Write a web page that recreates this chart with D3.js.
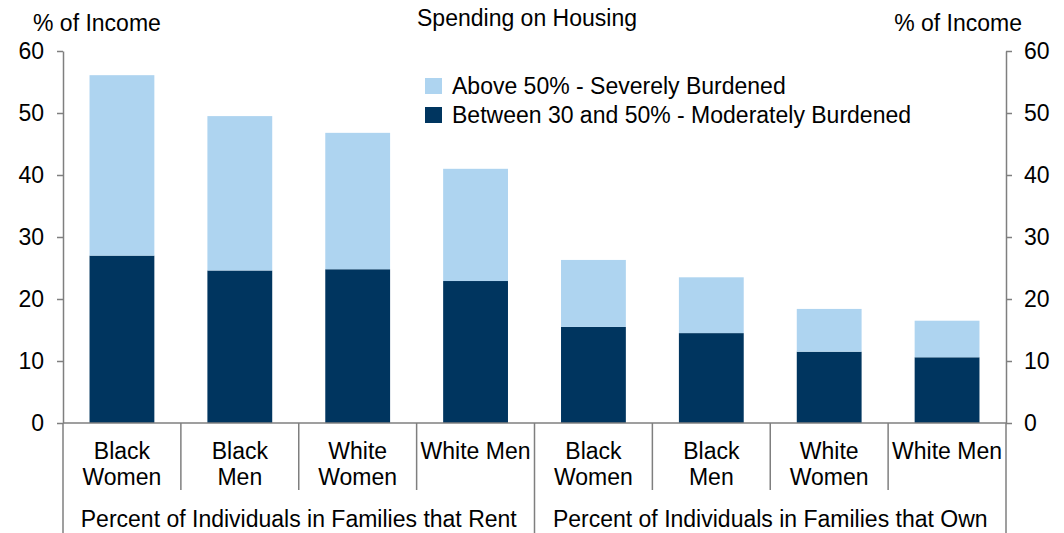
<!DOCTYPE html>
<html><head><meta charset="utf-8">
<script src="https://cdn.jsdelivr.net/npm/d3@7"></script>
<style>
html,body{margin:0;padding:0;background:#fff;}
text{font-family:"Liberation Sans",Arial,sans-serif;fill:#000;}
</style></head>
<body><svg id="c" width="1064" height="533"></svg>
<script>
const categories = ["Black Women","Black Men","White Women","White Men","Black Women","Black Men","White Women","White Men"];
const categoryLines = [["Black","Women"],["Black","Men"],["White","Women"],["White Men"],["Black","Women"],["Black","Men"],["White","Women"],["White Men"]];
const groups = ["Percent of Individuals in Families that Rent","Percent of Individuals in Families that Own"];
const moderate = [27.0, 24.6, 24.8, 22.9, 15.5, 14.5, 11.5, 10.6];
const severe = [29.1, 24.9, 22.0, 18.1, 10.8, 9.0, 6.9, 5.9];
const seriesNames = ["Above 50% - Severely Burdened","Between 30 and 50% - Moderately Burdened"];
const yTicks = [0,10,20,30,40,50,60];

const colors = {severe:"#aed4f0", moderate:"#00355f"};
const FS = 23;
const svg = d3.select("#c");
const L = 63, R = 1006, T = 51, B = 423;
const idx = d3.range(categories.length);
const x = d3.scaleBand().domain(idx).range([L,R]).paddingInner(0.45).paddingOuter(0.225);
const xb = d3.scaleBand().domain(idx).range([L,R]).padding(0);
const y = d3.scaleLinear().domain([0,60]).range([B,T]);

const data = idx.map(i => ({i, moderate:moderate[i], severe:severe[i]}));
const stack = d3.stack().keys(["moderate","severe"])(data);

stack.forEach(s => {
  svg.append("g").selectAll("rect").data(s).join("rect")
    .attr("x", d => x(d.data.i))
    .attr("width", x.bandwidth())
    .attr("y", d => y(d[1]))
    .attr("height", d => y(d[0]) - y(d[1]))
    .attr("fill", colors[s.key]);
});

const axisColor = "#7f7f7f";
const la = svg.append("g").attr("transform",`translate(${L},0)`)
  .call(d3.axisLeft(y).tickValues(yTicks).tickSize(6).tickPadding(13).tickSizeOuter(0));
const ra = svg.append("g").attr("transform",`translate(${R},0)`)
  .call(d3.axisRight(y).tickValues(yTicks).tickSize(6).tickPadding(12).tickSizeOuter(0));
[la,ra].forEach(a=>{
  a.select(".domain").attr("stroke",axisColor).attr("stroke-width",1.5);
  a.selectAll(".tick line").attr("stroke",axisColor).attr("stroke-width",1.5);
  a.selectAll(".tick text").attr("font-size",FS).attr("font-family","Liberation Sans, Arial, sans-serif").attr("fill","#000");
});

svg.append("line").attr("x1",L).attr("x2",R).attr("y1",B).attr("y2",B).attr("stroke",axisColor).attr("stroke-width",1.5);
const seps = d3.range(categories.length+1);
svg.append("g").selectAll("line").data(seps).join("line")
  .attr("x1", i => i<categories.length ? xb(i) : R)
  .attr("x2", i => i<categories.length ? xb(i) : R)
  .attr("y1", B)
  .attr("y2", i => (i % 4 === 0) ? 533 : 490)
  .attr("stroke", axisColor).attr("stroke-width",1.5);

const cl = svg.append("g").selectAll("text").data(idx).join("text")
  .attr("text-anchor","middle").attr("font-size",FS);
cl.each(function(i){
  const t = d3.select(this);
  categoryLines[i].forEach((ln,k)=>{
    t.append("tspan").attr("x", xb(i)+xb.bandwidth()/2).attr("y", 459 + k*26).text(ln);
  });
});
svg.append("g").selectAll("text").data(groups).join("text")
  .attr("x", (g,k) => (xb(k*4) + (k===0 ? xb(4) : R))/2)
  .attr("y", 527).attr("text-anchor","middle").attr("font-size",FS).text(d=>d);

svg.append("text").attr("x",33).attr("y",31).attr("font-size",FS).text("% of Income");
svg.append("text").attr("x",1022).attr("y",31).attr("text-anchor","end").attr("font-size",FS).text("% of Income");
svg.append("text").attr("x",527).attr("y",26).attr("text-anchor","middle").attr("font-size",FS).text("Spending on Housing");

const leg = svg.append("g");
const legColors = [colors.severe, colors.moderate];
seriesNames.forEach((n,k)=>{
  leg.append("rect").attr("x",425).attr("y",78 + k*29).attr("width",17).attr("height",16).attr("fill",legColors[k]);
  leg.append("text").attr("x",452).attr("y",94 + k*29).attr("font-size",FS).text(n);
});
</script></body></html>
